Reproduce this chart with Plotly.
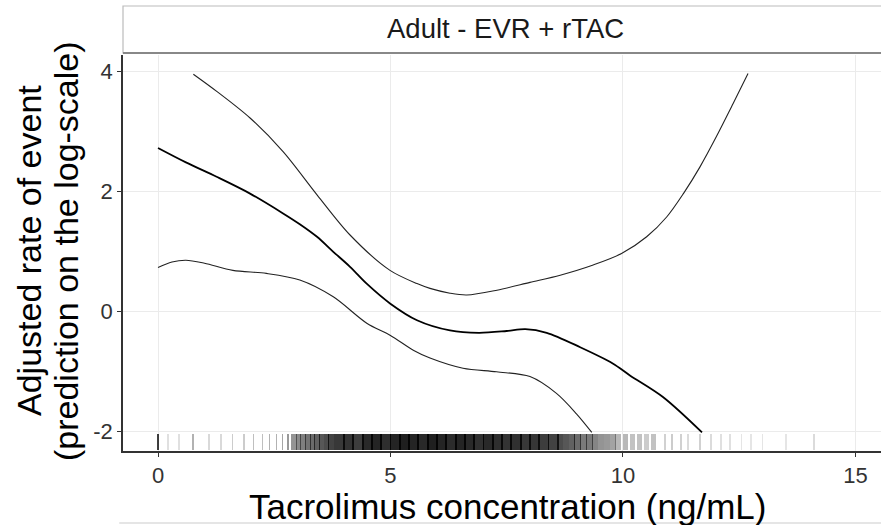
import plotly.graph_objects as go

# ---- data ----
est_x = [0.0, 0.6, 1.26, 1.98, 2.69, 3.05, 3.42, 3.77, 4.13, 4.5, 4.99, 5.57, 6.28, 6.9, 7.5, 7.9, 8.36, 9.08, 9.78, 10.15, 10.86, 11.7]
est_y = [2.72, 2.48, 2.24, 1.96, 1.63, 1.45, 1.24, 0.99, 0.74, 0.45, 0.13, -0.15, -0.32, -0.36, -0.33, -0.30, -0.36, -0.60, -0.87, -1.07, -1.43, -2.02]

up_x = [0.76, 1.27, 1.98, 2.69, 3.42, 4.13, 4.99, 5.57, 5.85, 6.28, 6.64, 7.29, 8.0, 8.65, 9.36, 9.97, 10.51, 10.94, 11.3, 11.66, 12.01, 12.37, 12.69]
up_y = [3.95, 3.66, 3.22, 2.66, 1.94, 1.27, 0.68, 0.46, 0.38, 0.30, 0.27, 0.35, 0.48, 0.60, 0.77, 0.96, 1.24, 1.57, 1.96, 2.41, 2.91, 3.46, 3.96]

lo_x = [0.0, 0.3, 0.6, 1.0, 1.61, 2.33, 3.05, 3.77, 4.49, 4.99, 5.49, 5.85, 6.56, 7.28, 8.0, 8.57, 9.0, 9.33]
lo_y = [0.73, 0.82, 0.85, 0.80, 0.68, 0.63, 0.52, 0.24, -0.20, -0.40, -0.65, -0.78, -0.95, -1.01, -1.09, -1.37, -1.71, -2.02]

rug_x = [0.00, 0.22, 0.45, 0.75, 1.10, 1.35, 1.60, 1.85, 2.05, 2.25, 2.40, 2.55, 2.68, 2.80,
         2.92, 3.02, 3.12, 3.22, 3.32, 3.42, 3.52, 3.62, 3.72,
         3.9, 4.1, 4.3, 4.5, 4.7, 4.9, 5.1, 5.3, 5.5, 5.7, 5.9, 6.1, 6.3, 6.5, 6.7, 6.9, 7.1, 7.3, 7.5, 7.7, 7.9, 8.1, 8.3, 8.5,
         8.65, 8.78, 8.9, 9.02, 9.15, 9.28, 9.4, 9.52, 9.65, 9.78, 9.9,
         10.05, 10.2, 10.35, 10.5, 10.65,
         10.9, 11.05, 11.25, 11.4, 11.65, 11.9, 12.1, 12.3, 12.55, 12.75, 13.0, 13.5, 14.1]
rug_shade = [0.75, 0.12, 0.12, 0.30, 0.15, 0.15, 0.20, 0.20, 0.25, 0.25, 0.30, 0.30, 0.35, 0.40,
             0.42, 0.46, 0.50, 0.55, 0.58, 0.62, 0.66, 0.70, 0.74,
             0.78, 0.80, 0.76, 0.84, 0.86, 0.82, 0.86, 0.88, 0.86, 0.84, 0.88, 0.86, 0.83, 0.86, 0.84, 0.81, 0.84, 0.82, 0.80, 0.81, 0.78, 0.79, 0.76, 0.74,
             0.70, 0.66, 0.62, 0.58, 0.52, 0.52, 0.48, 0.42, 0.40, 0.36, 0.28,
             0.28, 0.24, 0.24, 0.20, 0.24,
             0.18, 0.20, 0.18, 0.14, 0.18, 0.14, 0.12, 0.12, 0.10, 0.10, 0.10, 0.10, 0.14]

x_ticks = [0, 5, 10, 15]
y_ticks = [-2, 0, 2, 4]
strip_label = "Adult - EVR + rTAC"
x_title = "Tacrolimus concentration (ng/mL)"
y_title_1 = "Adjusted rate of event"
y_title_2 = "(prediction on the log-scale)"

# ---- figure ----
W, H = 881, 525
L, R, T, B = 123, 0, 55, 74
ph = H - T - B
FONT = "Liberation Sans, Arial, sans-serif"

def py(px):
    """pixel row -> paper y"""
    return (H - B - px) / ph

rug_width = [0.05] + [0.035] * 13 + [0.12] * 9 + [0.24] * 24 + [0.135] * 11 + [0.1] * 5 + [0.04] * 13
rug_base = -2.32
rug_len = 0.27

fig = go.Figure()
fig.add_trace(go.Bar(
    x=rug_x, y=[rug_len] * len(rug_x), base=rug_base, width=rug_width,
    marker=dict(color=[f"rgba(0,0,0,{a})" for a in rug_shade], line=dict(width=0)),
    hoverinfo="skip", showlegend=False))

fig.add_trace(go.Scatter(x=up_x, y=up_y, mode="lines",
                         line=dict(color="#222222", width=1.1, shape="spline", smoothing=0.9),
                         showlegend=False))
fig.add_trace(go.Scatter(x=lo_x, y=lo_y, mode="lines",
                         line=dict(color="#222222", width=1.1, shape="spline", smoothing=0.9),
                         showlegend=False))
fig.add_trace(go.Scatter(x=est_x, y=est_y, mode="lines",
                         line=dict(color="#000000", width=1.8, shape="spline", smoothing=0.9),
                         showlegend=False))

axis_common = dict(
    showgrid=True, gridcolor="#ebebeb", gridwidth=1, zeroline=False,
    showline=True, linecolor="#333333", linewidth=1.5,
    ticks="outside", ticklen=4, tickcolor="#333333", tickwidth=1,
    tickfont=dict(family=FONT, size=22, color="#333333"),
)

fig.update_layout(
    width=W, height=H,
    margin=dict(l=L, r=R, t=T, b=B, pad=0),
    paper_bgcolor="white", plot_bgcolor="white",
    bargap=0,
    xaxis=dict(range=[-0.753, 15.55], tickvals=x_ticks, ticktext=[str(v) for v in x_ticks], **axis_common),
    yaxis=dict(range=[-2.33, 4.27], tickvals=y_ticks, ticktext=[str(v) for v in y_ticks], **axis_common),
    shapes=[
        # strip box
        dict(type="rect", xref="paper", yref="paper", x0=0, x1=1.02, y0=py(53), y1=py(6),
             fillcolor="white", line=dict(color="#bbbbbb", width=1.2), layer="above"),
        dict(type="line", xref="paper", yref="paper", x0=0, x1=1, y0=py(53), y1=py(53),
             line=dict(color="#888888", width=2.2), layer="above"),
        # faint line at the very bottom
        dict(type="line", xref="paper", yref="paper", x0=-0.005, x1=1, y0=py(523), y1=py(523),
             line=dict(color="#cccccc", width=1.2), layer="above"),
    ],
    annotations=[
        dict(text=strip_label, xref="paper", yref="paper", x=0.505, y=py(29),
             xanchor="center", yanchor="middle", showarrow=False,
             font=dict(family=FONT, size=27.5, color="#1a1a1a")),
        dict(text=x_title, xref="paper", yref="paper", x=0.507, y=py(506),
             xanchor="center", yanchor="middle", showarrow=False,
             font=dict(family=FONT, size=35, color="#000000")),
        dict(text=y_title_1, xref="paper", yref="paper", x=(29 - L) / (W - L - R), y=py(251),
             xanchor="center", yanchor="middle", showarrow=False, textangle=-90,
             font=dict(family=FONT, size=34, color="#000000")),
        dict(text=y_title_2, xref="paper", yref="paper", x=(66 - L) / (W - L - R), y=py(251),
             xanchor="center", yanchor="middle", showarrow=False, textangle=-90,
             font=dict(family=FONT, size=34, color="#000000")),
    ],
)

fig.write_html("out.html")
